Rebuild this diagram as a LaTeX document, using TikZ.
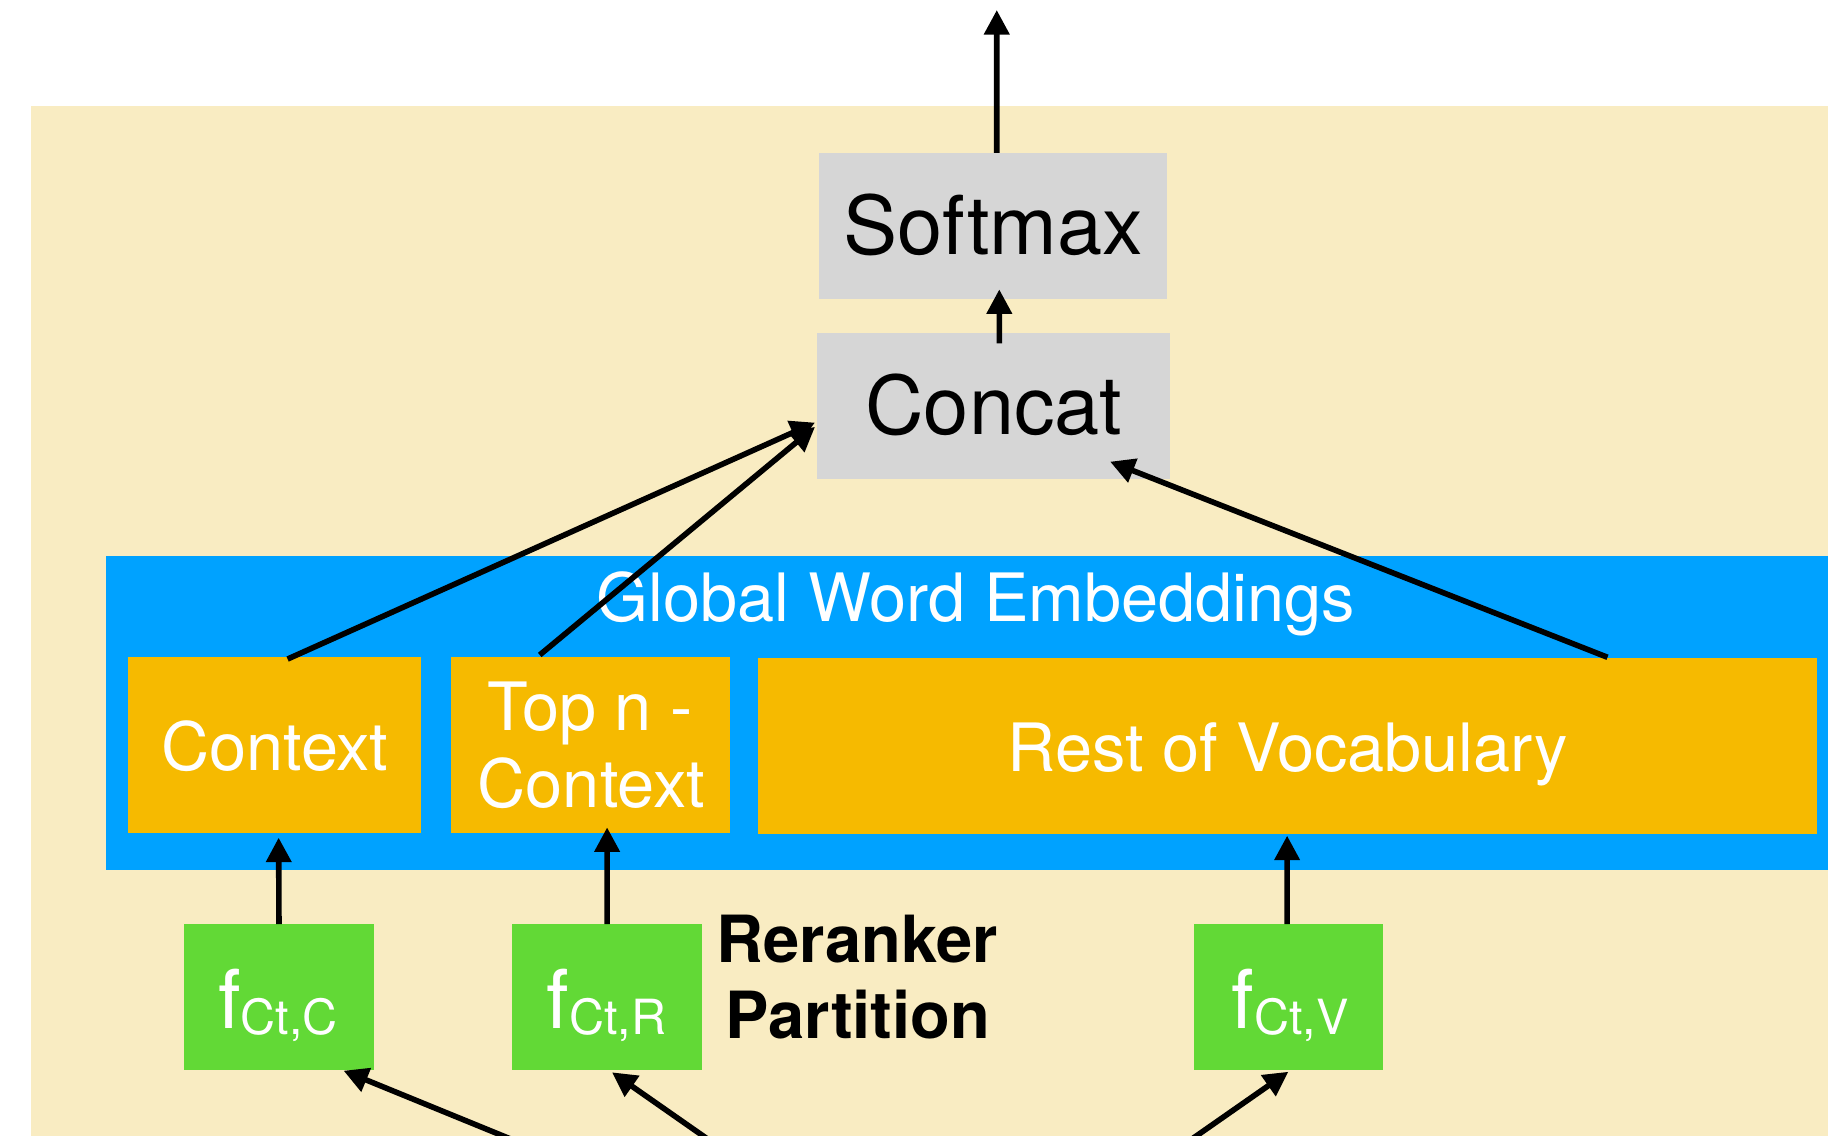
\documentclass[tikz,border=0pt]{standalone}
\usepackage{fontspec}
\setmainfont{TeX Gyre Heros}
\usetikzlibrary{arrows.meta}
\definecolor{bgbeige}{HTML}{F9ECC2}
\definecolor{boxgray}{HTML}{D6D6D6}
\definecolor{embblue}{HTML}{00A2FF}
\definecolor{partorange}{HTML}{F6BA00}
\definecolor{fgreen}{HTML}{62D936}
\newcommand{\fbig}{\fontsize{34.8}{40}\selectfont}
\newcommand{\fmid}{\fontsize{28.6}{33}\selectfont}
\newcommand{\fsubs}{\fontsize{20.8}{24}\selectfont}
\newcommand{\flab}[1]{{\fbig f}{\fsubs\raisebox{-2.6pt}{Ct,#1}}}
\begin{document}
\begin{tikzpicture}[x=0.5pt,y=-0.5pt,
  box/.style={draw=none, inner sep=0pt, outer sep=0pt},
  graybox/.style={box, fill=boxgray},
  bluebox/.style={box, fill=embblue},
  orangebox/.style={box, fill=partorange},
  greenbox/.style={box, fill=fgreen},
  lbl/.style={inner sep=0pt, outer sep=0pt, anchor=base},
  wlbl/.style={lbl, text=white, font=\fmid},
  arr/.style={line width=2.4pt, -{Triangle[length=10.5pt,width=10.5pt]}}
]
\clip (0,0) rectangle (1568,974);
\fill[bgbeige] (27,91) rectangle (1600,1000);

% boxes
\node[graybox, minimum width=149.25pt, minimum height=62.5pt] (softmax) at (851.75,193.7) {};
\node[graybox, minimum width=151.4pt, minimum height=62.5pt] (concat) at (852.2,348.1) {};
\node[bluebox, anchor=north west, minimum width=760pt, minimum height=134.45pt] (gwe) at (90.8,477) {};
\node[orangebox, minimum width=125.6pt, minimum height=75.45pt] (ctx) at (235.6,639.05) {};
\node[orangebox, minimum width=119.45pt, minimum height=75.45pt] (topn) at (506.35,639.05) {};
\node[orangebox, minimum width=454.15pt, minimum height=75.35pt] (rest) at (1104.45,639.75) {};
\node[greenbox, minimum width=81.5pt, minimum height=62.6pt] (fc) at (239.3,855.2) {};
\node[greenbox, minimum width=81.3pt, minimum height=62.6pt] (fr) at (520.8,855.2) {};
\node[greenbox, minimum width=81.35pt, minimum height=62.6pt] (fv) at (1105.1,855.2) {};

% texts
\node[lbl, font=\fbig] (tsoft) at (851.8,218.7) {Softmax};
\node[lbl, font=\fbig] (tconc) at (852.5,373.1) {Concat};
\node[wlbl] (tgwe) at (837,532.7) {Global Word Embeddings};
\node[wlbl] (tctx) at (235.8,660.5) {Context};
\node[wlbl] (ttopa) at (506,626.2) {Top n -};
\node[wlbl] (ttopb) at (507.2,692.8) {Context};
\node[wlbl] (trest) at (1104.6,661.4) {Rest of Vocabulary};
\node[lbl, text=white] (tfc) at (238.5,882) {\flab{C}};
\node[lbl, text=white] (tfr) at (520.2,882) {\flab{R}};
\node[lbl, text=white] (tfv) at (1106.5,882) {\flab{V}};
\node[lbl, font=\fontsize{27.9}{32}\selectfont\bfseries] (trra) at (735.5,826) {Reranker};
\node[lbl, font=\fontsize{27.9}{32}\selectfont\bfseries] (trrb) at (735.6,890.4) {Partition};

% free ends
\coordinate (outtip) at (855,8.6);
\coordinate (b1) at (469.8,990);
\coordinate (b2) at (625.5,990);
\coordinate (b3) at (1003.8,990);

% connectors
\draw[arr] ([xshift=1.6pt]softmax.north) -- (outtip);
\draw[arr] ([xshift=2.5pt,yshift=-4.45pt]concat.north) -- ([xshift=2.7pt,yshift=4pt]softmax.south);
\draw[arr] ([xshift=5.55pt,yshift=-0.85pt]ctx.north) -- ([xshift=-0.85pt,yshift=-7.2pt]concat.west);
\draw[arr] ([xshift=-21.7pt,yshift=0.9pt]topn.north) -- ([xshift=-0.85pt,yshift=-9pt]concat.west);
\draw[arr] ([xshift=137.2pt,yshift=0.3pt]rest.north) -- ([xshift=50pt,yshift=7.3pt]concat.south);
\draw[arr] (fc.north) -- ([xshift=1.7pt,yshift=-2pt]ctx.south);
\draw[arr] (fr.north) -- ([xshift=7.2pt,yshift=2.4pt]topn.south);
\draw[arr] ([xshift=-0.55pt]fv.north) -- ([xshift=-0.2pt,yshift=-0.85pt]rest.south);
\draw[arr] (b1) -- ([xshift=27.7pt,yshift=-0.3pt]fc.south);
\draw[arr] (b2) -- ([xshift=2.1pt,yshift=-1pt]fr.south);
\draw[arr] (b3) -- ([yshift=-0.75pt]fv.south);
\end{tikzpicture}
\end{document}
